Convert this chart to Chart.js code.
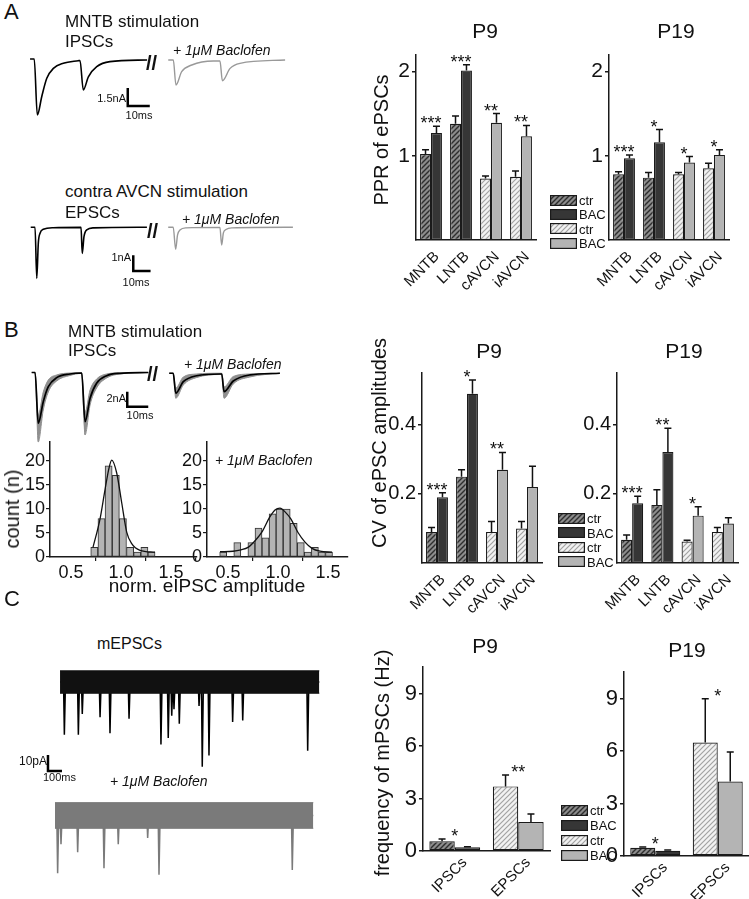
<!DOCTYPE html>
<html>
<head>
<meta charset="utf-8">
<script src="https://cdn.jsdelivr.net/npm/chart.js@4.4.1/dist/chart.umd.min.js"></script>
<style>
  body { margin: 0; background: #fff; width: 749px; height: 899px; position: relative; overflow: hidden;
         font-family: "Liberation Sans", Arial, Helvetica, sans-serif; color: #111; }
  canvas { position: absolute; }
  .t { position: absolute; white-space: nowrap; line-height: 1; }
</style>
</head>
<body>
<script>
// ---- A: paired-pulse ratio of ePSCs ----
const regions = ['MNTB', 'LNTB', 'cAVCN', 'iAVCN'];
const pprTicks = [1, 2];
const pprP9Ctr = [1.02, 1.38, 0.73, 0.75];
const pprP9CtrErr = [0.05, 0.09, 0.03, 0.07];
const pprP9Bac = [1.27, 2.01, 1.39, 1.23];
const pprP9BacErr = [0.08, 0.07, 0.11, 0.13];
const pprP9Stars = ['***', '***', '**', '**'];
const pprP19Ctr = [0.78, 0.74, 0.78, 0.85];
const pprP19CtrErr = [0.03, 0.06, 0.02, 0.06];
const pprP19Bac = [0.97, 1.16, 0.92, 1.01];
const pprP19BacErr = [0.04, 0.15, 0.07, 0.06];
const pprP19Stars = ['***', '*', '*', '*'];

// ---- B: CV of ePSC amplitudes ----
const cvTicks = [0.2, 0.4];
const cvP9Ctr = [0.09, 0.25, 0.09, 0.10];
const cvP9CtrErr = [0.013, 0.02, 0.03, 0.02];
const cvP9Bac = [0.19, 0.49, 0.27, 0.22];
const cvP9BacErr = [0.013, 0.04, 0.05, 0.06];
const cvP9Stars = ['***', '*', '**', ''];
const cvP19Ctr = [0.067, 0.168, 0.062, 0.09];
const cvP19CtrErr = [0.014, 0.044, 0.004, 0.013];
const cvP19Bac = [0.173, 0.321, 0.137, 0.114];
const cvP19BacErr = [0.02, 0.069, 0.026, 0.017];
const cvP19Stars = ['***', '**', '*', ''];

// ---- B: amplitude histograms ----
const countTicks = [0, 5, 10, 15, 20];
const ampTicks = [0.5, 1.0, 1.5];
const ctrBins = [0.733, 0.805, 0.876, 0.948, 1.019, 1.091, 1.162, 1.234, 1.305];
const ctrCounts = [2, 8, 19, 17, 8, 2, 1, 2, 1];
const ctrFitX = [0.72, 0.79, 0.84, 0.88, 0.907, 0.957, 1.007, 1.057, 1.107, 1.19, 1.34];
const ctrFitY = [2, 7.9, 14, 18.5, 20.2, 17.5, 11.3, 5.2, 2.8, 1.4, 1];
const bacBins = [0.452, 0.523, 0.593, 0.664, 0.734, 0.805, 0.875, 0.946, 1.016, 1.087, 1.157, 1.228, 1.298, 1.369, 1.439, 1.510];
const bacCounts = [1, 0, 3, 0, 3, 6, 4, 9, 10, 10, 7, 3, 1, 2, 1, 1];
const bacFitX = [0.42, 0.55, 0.63, 0.70, 0.775, 0.845, 0.914, 0.97, 1.02, 1.075, 1.13, 1.2, 1.27, 1.34, 1.42, 1.54];
const bacFitY = [1.1, 1.2, 1.5, 2.0, 3.5, 5.4, 8.2, 9.8, 10.2, 9.3, 7.9, 5.1, 3.1, 1.8, 1.2, 1.0];

// ---- C: frequency of mPSCs ----
const psc = ['IPSCs', 'EPSCs'];
const freqTicks = [0, 3, 6, 9];
const freqP9Ctr = [0.56, 3.69];
const freqP9CtrErr = [0.13, 0.65];
const freqP9Bac = [0.21, 1.66];
const freqP9BacErr = [0.03, 0.46];
const freqP9Stars = ['*', '**'];
const freqP19Ctr = [0.47, 6.48];
const freqP19CtrErr = [0.05, 2.5];
const freqP19Bac = [0.3, 4.26];
const freqP19BacErr = [0.04, 1.68];
const freqP19Stars = ['*', '*'];

const legendLabels = ['ctr', 'BAC', 'ctr', 'BAC'];

// ---- example traces (time in ms, current in nA) ----
const ipscT = [2.3, 4.2, 5.6, 7.6, 9.9, 12.9, 17.4, 24.2, 25.0, 26.5, 28.8, 32.6, 38.6, 55.5];
const ipscI = [0, 0, -4.67, -3.14, -1.61, -0.78, -0.36, -0.14, -0.12, -2.58, -1.48, -0.64, -0.22, -0.08];
const ipscBacT = [65.1, 67.4, 68.6, 71.2, 75.8, 85.6, 88.6, 89.7, 93.2, 97.7, 118.2];
const ipscBacI = [-0.08, -0.08, -2.17, -1.06, -0.5, -0.17, -0.17, -1.81, -0.78, -0.36, -0.08];
const epscT = [3.3, 5.8, 6.8, 7.7, 8.7, 10.6, 16.4, 32.4, 33.1, 34.1, 35.7, 39.5, 70.5];
const epscI = [0, 0, -3.25, -1.0, -0.38, -0.13, -0.03, -0.01, -1.66, -0.6, -0.17, -0.04, 0];
const epscBacT = [82.8, 85.7, 87.1, 88.2, 89.6, 93.1, 112.7, 113.7, 114.7, 116.2, 119.7, 154.9];
const epscBacI = [0, 0, -1.4, -0.49, -0.17, -0.04, -0.01, -1.13, -0.36, -0.14, -0.04, 0];
// B: mean trace plus the deepest / shallowest of the overlaid sweeps
const sweepT = [3.2, 4.8, 6.3, 8.7, 11.1, 15.1, 21.4, 27.0, 28.6, 31.0, 34.1, 38.9, 45.2, 58.7];
const sweepMean = [0, 0, -6.77, -3.89, -1.89, -0.69, -0.2, -0.07, -6.56, -3.44, -1.44, -0.43, -0.11, 0];
const sweepDeep = [0, 0, -9.27, -5.0, -2.6, -1.13, -0.4, -0.13, -8.33, -4.33, -2.07, -0.73, -0.2, 0];
const sweepFlat = [0, 0, -5.67, -2.6, -1.0, -0.33, -0.07, -0.03, -5.27, -2.33, -0.87, -0.2, -0.05, 0];
const sweepBacT = [68.7, 70.6, 71.8, 75.4, 81.8, 92.9, 93.7, 94.8, 99.2, 107.1, 121.4];
const sweepBacMean = [-0.1, -0.1, -2.77, -1.23, -0.43, -0.2, -0.2, -2.56, -1.13, -0.33, -0.1];
const sweepBacDeep = [-0.1, -0.1, -3.44, -1.67, -0.67, -0.27, -0.27, -3.44, -1.53, -0.6, -0.1];
const sweepBacFlat = [-0.1, -0.1, -2.07, -0.6, -0.2, -0.1, -0.1, -1.93, -0.53, -0.2, -0.1];
// C: mEPSC recordings (ms, pA)
const mepscSpan = [143, 1995];
const mepscNoise = [7, -7];
const mepscEventT = [174, 274, 302, 429, 500, 636, 864, 916, 941, 957, 995, 1136, 1159, 1207, 1376, 1448, 1912];
const mepscEventA = [-33, -33, -20, -22, -32, -23, -39, -35, -21, -17, -26, -15, -53, -46, -25, -24, -43];
const mepscBacSpan = [107, 1952];
const mepscBacNoise = [8, -8];
const mepscBacEventT = [126, 150, 269, 457, 559, 769, 850, 1802];
const mepscBacEventA = [-36, -18, -23, -33, -18, -14, -37, -34];

// ---------------------------------------------------------------
const FONT = '"Liberation Sans", Arial, Helvetica, sans-serif';
Chart.defaults.font.family = FONT;
Chart.defaults.color = '#111';

function mkCanvas(x, y, w, h) {
  const c = document.createElement('canvas');
  c.width = w; c.height = h;
  c.style.left = x + 'px'; c.style.top = y + 'px';
  c.style.width = w + 'px'; c.style.height = h + 'px';
  document.body.appendChild(c);
  return c;
}

function txt(s, x, base, size, o = {}) {
  const d = document.createElement('div');
  d.className = 't';
  d.textContent = s;
  d.style.fontSize = size + 'px';
  d.style.left = x + 'px';
  d.style.top = (base - 0.8465 * size) + 'px';
  if (o.italic) d.style.fontStyle = 'italic';
  if (o.bold) d.style.fontWeight = 'bold';
  if (o.align === 'center') d.style.transform = 'translateX(-50%)';
  if (o.align === 'right') d.style.transform = 'translateX(-100%)';
  document.body.appendChild(d);
}

function vtxt(s, cx, cy, size) {
  const d = document.createElement('div');
  d.className = 't';
  d.textContent = s;
  d.style.fontSize = size + 'px';
  d.style.left = cx + 'px';
  d.style.top = cy + 'px';
  d.style.transform = 'translate(-50%, -50%) rotate(-90deg)';
  document.body.appendChild(d);
}

function hatch(bg, fg, lw) {
  const s = 5;
  const c = document.createElement('canvas');
  c.width = s; c.height = s;
  const g = c.getContext('2d');
  g.fillStyle = bg;
  g.fillRect(0, 0, s, s);
  g.strokeStyle = fg;
  g.lineWidth = lw;
  g.beginPath();
  g.moveTo(-1, s + 1); g.lineTo(s + 1, -1);
  g.moveTo(-1, 1); g.lineTo(1, -1);
  g.moveTo(s - 1, s + 1); g.lineTo(s + 1, s - 1);
  g.stroke();
  return g.createPattern(c, 'repeat');
}

const darkHatch = hatch('#8c8c8c', '#2e2e2e', 1.4);
const lightHatch = hatch('#f2f2f2', '#a2a2a2', 1.2);
const darkSolid = '#363636';
const lightSolid = '#b4b4b4';

// error bars (upward only) and significance stars
const errorBarPlugin = {
  id: 'errorBarPlugin',
  afterDatasetsDraw(chart) {
    const ctx = chart.ctx;
    const y = chart.scales.y;
    const tops = [];
    ctx.save();
    ctx.strokeStyle = '#111';
    ctx.lineWidth = 1.5;
    chart.data.datasets.forEach((ds, i) => {
      if (!ds.errors) return;
      chart.getDatasetMeta(i).data.forEach((bar, j) => {
        const yTop = y.getPixelForValue(ds.data[j] + ds.errors[j]);
        ctx.beginPath();
        ctx.moveTo(bar.x, bar.y);
        ctx.lineTo(bar.x, yTop);
        ctx.moveTo(bar.x - 3.5, yTop);
        ctx.lineTo(bar.x + 3.5, yTop);
        ctx.stroke();
        tops[j] = Math.min(tops[j] === undefined ? Infinity : tops[j], yTop);
      });
    });
    const starDs = chart.data.datasets.find(d => d.stars);
    if (starDs) {
      const m0 = chart.getDatasetMeta(0).data;
      const m1 = chart.getDatasetMeta(1).data;
      ctx.fillStyle = '#111';
      ctx.font = '18px ' + FONT;
      ctx.textAlign = 'center';
      ctx.textBaseline = 'alphabetic';
      starDs.stars.forEach((s, j) => {
        if (s) ctx.fillText(s, (m0[j].x + m1[j].x) / 2, tops[j] + 3);
      });
    }
    ctx.restore();
  }
};

const axisBorder = { color: '#1a1a1a', width: 1.5 };

function groupChart(box, labels, ctr, ctrErr, bac, bacErr, stars, ticks, yMax, style) {
  const cv = mkCanvas(box.x, box.y, box.w, box.h);
  new Chart(cv, {
    type: 'bar',
    data: {
      labels: labels,
      datasets: [
        { label: 'ctr', data: ctr, errors: ctrErr, backgroundColor: style.ctrFill,
          borderColor: '#1a1a1a', borderWidth: 1.2, borderSkipped: false,
          categoryPercentage: style.catPct, barPercentage: 1 },
        { label: 'BAC', data: bac, errors: bacErr, stars: stars, backgroundColor: style.bacFill,
          borderColor: '#1a1a1a', borderWidth: 1.2, borderSkipped: false,
          categoryPercentage: style.catPct, barPercentage: 1 }
      ]
    },
    options: {
      animation: false,
      responsive: false,
      devicePixelRatio: 1,
      layout: { padding: { top: box.pt, right: box.pr, left: 0, bottom: 0 } },
      plugins: { legend: { display: false }, tooltip: { enabled: false } },
      scales: {
        x: {
          grid: { display: false },
          border: axisBorder,
          ticks: { font: { size: style.labelSize }, color: '#111', minRotation: 45, maxRotation: 45,
                   padding: style.labelPad, labelOffset: style.labelShift },
          afterFit: s => { s.height = box.xh; }
        },
        y: {
          min: 0,
          max: yMax,
          border: axisBorder,
          grid: { drawOnChartArea: false, color: '#1a1a1a', lineWidth: 1.5, tickLength: 4 },
          ticks: { font: { size: style.tickSize }, color: '#111', padding: 2, callback: v => style.fmt(v) },
          afterBuildTicks: s => { s.ticks = ticks.map(v => ({ value: v })); },
          afterFit: s => { s.width = box.yw; }
        }
      }
    },
    plugins: [errorBarPlugin]
  });
}

function histChart(box, centers, counts, fitX, fitY, xMin, xMax) {
  const cv = mkCanvas(box.x, box.y, box.w, box.h);
  new Chart(cv, {
    type: 'bar',
    data: {
      datasets: [
        { type: 'line', data: fitX.map((x, k) => ({ x: x, y: fitY[k] })), borderColor: '#111',
          borderWidth: 1.3, pointRadius: 0, cubicInterpolationMode: 'monotone', order: 0 },
        { type: 'bar', data: centers.map((x, k) => ({ x: x, y: counts[k] })), backgroundColor: '#b4b4b4',
          borderColor: '#333', borderWidth: 1, borderSkipped: false,
          barPercentage: 1, categoryPercentage: 1, order: 1 }
      ]
    },
    options: {
      animation: false,
      responsive: false,
      devicePixelRatio: 1,
      layout: { padding: { top: box.pt, right: box.pr, left: 0, bottom: 0 } },
      plugins: { legend: { display: false }, tooltip: { enabled: false } },
      scales: {
        x: {
          type: 'linear', min: xMin, max: xMax, offset: false,
          border: axisBorder,
          grid: { drawOnChartArea: false, color: '#1a1a1a', lineWidth: 1.2, tickLength: 4 },
          ticks: { font: { size: 18 }, color: '#111', padding: 1, maxRotation: 0, callback: v => v.toFixed(1) },
          afterBuildTicks: s => { s.ticks = ampTicks.map(v => ({ value: v })); },
          afterFit: s => { s.height = box.xh; }
        },
        y: {
          min: 0, max: 24,
          border: axisBorder,
          grid: { drawOnChartArea: false, color: '#1a1a1a', lineWidth: 1.2, tickLength: 4 },
          ticks: { font: { size: 18 }, color: '#111', padding: 1 },
          afterBuildTicks: s => { s.ticks = countTicks.map(v => ({ value: v })); },
          afterFit: s => { s.width = box.yw; }
        }
      }
    }
  });
}

function pts(xs, ys) { return xs.map((x, k) => ({ x: x, y: ys[k] })); }

// lower "order" is painted on top
function line(data, color, width, extra = {}) {
  return Object.assign({ data: data, borderColor: color, borderWidth: width, pointRadius: 0,
    fill: false, cubicInterpolationMode: 'monotone', order: 1 }, extra);
}

function scaleBar(t, i, dt, di) {
  return line([{ x: t, y: i + di }, { x: t, y: i }, { x: t + dt, y: i }], '#000', 2.5,
    { cubicInterpolationMode: 'default', tension: 0, order: 0 });
}

function spikes(span, times, amps) {
  const p = [{ x: span[0], y: 0 }];
  times.forEach((t, k) => { p.push({ x: t - 6, y: 0 }, { x: t, y: amps[k] }, { x: t + 8, y: 0 }); });
  p.push({ x: span[1], y: 0 });
  return p;
}

function traceChart(box, xMax, yMin, yMax, datasets) {
  const cv = mkCanvas(box.x, box.y, box.w, box.h);
  new Chart(cv, {
    type: 'line',
    data: { datasets: datasets },
    options: {
      animation: false,
      responsive: false,
      devicePixelRatio: 1,
      layout: { padding: 0 },
      plugins: { legend: { display: false }, tooltip: { enabled: false } },
      scales: {
        x: { type: 'linear', display: false, min: 0, max: xMax },
        y: { display: false, min: yMin, max: yMax }
      }
    }
  });
}

function legend(x, rows) {
  const fills = [darkHatch, darkSolid, lightHatch, lightSolid];
  legendLabels.forEach((lab, k) => {
    const c = mkCanvas(x, Math.round(rows[k] - 5.5), 27, 11);
    const g = c.getContext('2d');
    g.fillStyle = fills[k];
    g.fillRect(0, 0, 27, 11);
    g.strokeStyle = '#1a1a1a';
    g.lineWidth = 1.2;
    g.strokeRect(0.6, 0.6, 25.8, 9.8);
    txt(lab, x + 29, rows[k] + 5, 13);
  });
}

const fmtInt = v => String(v);
const fmt1 = v => v.toFixed(1);
const styleA = { ctrFill: [darkHatch, darkHatch, lightHatch, lightHatch], bacFill: [darkSolid, darkSolid, lightSolid, lightSolid],
  catPct: 0.73, labelSize: 15, labelShift: 6, labelPad: 0, tickSize: 21, fmt: fmtInt };
const styleB = Object.assign({}, styleA, { tickSize: 20, fmt: fmt1 });
const styleC = { ctrFill: [darkHatch, lightHatch], bacFill: [darkSolid, lightSolid],
  catPct: 0.8, labelSize: 15, labelShift: 10, labelPad: -5, tickSize: 22, fmt: fmtInt };

// ---- panel A ----
groupChart({ x: 370, y: 40, w: 176, h: 260, pt: 10, pr: 10, yw: 46, xh: 60 },
  regions, pprP9Ctr, pprP9CtrErr, pprP9Bac, pprP9BacErr, pprP9Stars, pprTicks, 2.2, styleA);
groupChart({ x: 565, y: 40, w: 175, h: 260, pt: 10, pr: 11, yw: 44, xh: 60 },
  regions, pprP19Ctr, pprP19CtrErr, pprP19Bac, pprP19BacErr, pprP19Stars, pprTicks, 2.2, styleA);
legend(550, [200, 214.3, 228.7, 243]);

traceChart({ x: 25, y: 48, w: 270, h: 80 }, 122.7, -5.75, 0.917, [
  line(pts(ipscT, ipscI), '#000', 1.6),
  line(pts(ipscBacT, ipscBacI), '#999', 1.4),
  scaleBar(46.7, -3.92, 10, 1.5)
]);
traceChart({ x: 25, y: 215, w: 275, h: 80 }, 159, -4.31, 0.78, [
  line(pts(epscT, epscI), '#000', 1.6),
  line(pts(epscBacT, epscBacI), '#999', 1.4),
  scaleBar(62.6, -2.78, 10, 1)
]);

// ---- panel B ----
groupChart({ x: 376, y: 359, w: 176, h: 264, pt: 10, pr: 10, yw: 46, xh: 60 },
  regions, cvP9Ctr, cvP9CtrErr, cvP9Bac, cvP9BacErr, cvP9Stars, cvTicks, 0.55, styleB);
groupChart({ x: 571, y: 359, w: 178, h: 264, pt: 10, pr: 11, yw: 46, xh: 60 },
  regions, cvP19Ctr, cvP19CtrErr, cvP19Bac, cvP19BacErr, cvP19Stars, cvTicks, 0.55, styleB);
legend(558, [518.3, 532.7, 547.3, 561.7]);

traceChart({ x: 25, y: 355, w: 270, h: 95 }, 128.6, -10.33, 2.33, [
  line(pts(sweepT, sweepFlat), '#8f8f8f', 1, { fill: '+1', backgroundColor: '#8f8f8f', order: 2 }),
  line(pts(sweepT, sweepDeep), '#8f8f8f', 1, { order: 2 }),
  line(pts(sweepT, sweepMean), '#000', 1.7, { order: 0 }),
  line(pts(sweepBacT, sweepBacFlat), '#8f8f8f', 1, { fill: '+1', backgroundColor: '#8f8f8f', order: 2 }),
  line(pts(sweepBacT, sweepBacDeep), '#8f8f8f', 1, { order: 2 }),
  line(pts(sweepBacT, sweepBacMean), '#000', 1.7, { order: 0 }),
  scaleBar(48.7, -4.56, 10, 2)
]);

histChart({ x: 15, y: 430, w: 190, h: 150, pt: 10, pr: 8, yw: 35, xh: 23 },
  ctrBins, ctrCounts, ctrFitX, ctrFitY, 0.29, 1.76);
histChart({ x: 172, y: 430, w: 185, h: 150, pt: 10, pr: 9, yw: 35, xh: 23 },
  bacBins, bacCounts, bacFitX, bacFitY, 0.29, 1.70);

// ---- panel C ----
groupChart({ x: 377, y: 652, w: 183, h: 247, pt: 10, pr: 10, yw: 46, xh: 48 },
  psc, freqP9Ctr, freqP9CtrErr, freqP9Bac, freqP9BacErr, freqP9Stars, freqTicks, 10.5, styleC);
groupChart({ x: 578, y: 657, w: 171, h: 242, pt: 10, pr: 0, yw: 46, xh: 43 },
  psc, freqP19Ctr, freqP19CtrErr, freqP19Bac, freqP19BacErr, freqP19Stars, freqTicks, 10.5, styleC);
legend(561, [810, 825, 840, 855]);

traceChart({ x: 40, y: 655, w: 285, h: 125 }, 2035.7, -61.25, 16.9, [
  line([{ x: mepscSpan[0], y: mepscNoise[0] }, { x: mepscSpan[1], y: mepscNoise[0] }], '#111', 1,
    { fill: '+1', backgroundColor: '#111', tension: 0 }),
  line([{ x: mepscSpan[0], y: mepscNoise[1] }, { x: mepscSpan[1], y: mepscNoise[1] }], '#111', 1, { tension: 0 }),
  line(spikes(mepscSpan, mepscEventT, mepscEventA), '#000', 1.5, { cubicInterpolationMode: 'default', tension: 0 }),
  scaleBar(57, -55.6, 100, 10)
]);
traceChart({ x: 40, y: 790, w: 285, h: 95 }, 2035.7, -43.4, 15.9, [
  line([{ x: mepscBacSpan[0], y: mepscBacNoise[0] }, { x: mepscBacSpan[1], y: mepscBacNoise[0] }], '#7a7a7a', 1,
    { fill: '+1', backgroundColor: '#7a7a7a', tension: 0 }),
  line([{ x: mepscBacSpan[0], y: mepscBacNoise[1] }, { x: mepscBacSpan[1], y: mepscBacNoise[1] }], '#7a7a7a', 1, { tension: 0 }),
  line(spikes(mepscBacSpan, mepscBacEventT, mepscBacEventA), '#7a7a7a', 1.5, { cubicInterpolationMode: 'default', tension: 0 })
]);

// ---- text ----
txt('A', 4, 20, 22);
txt('MNTB stimulation', 65, 27, 17);
txt('IPSCs', 65, 47, 17);
txt('+ 1μM Baclofen', 173, 55, 14, { italic: true });
txt('//', 146, 70, 20, { bold: true });
txt('1.5nA', 126, 102, 11, { align: 'right' });
txt('10ms', 139, 119, 11, { align: 'center' });
txt('contra AVCN stimulation', 65, 197, 17);
txt('EPSCs', 65, 218, 17);
txt('+ 1μM Baclofen', 182, 224, 14, { italic: true });
txt('//', 147, 238, 20, { bold: true });
txt('1nA', 131, 261, 11, { align: 'right' });
txt('10ms', 136, 286, 11, { align: 'center' });
txt('P9', 485, 38, 21, { align: 'center' });
txt('P19', 676, 38, 21, { align: 'center' });
vtxt('PPR of ePSCs', 381, 140, 20);

txt('B', 4, 338, 22);
txt('MNTB stimulation', 68, 337, 17);
txt('IPSCs', 68, 356, 17);
txt('+ 1μM Baclofen', 184, 369, 14, { italic: true });
txt('//', 147, 381, 20, { bold: true });
txt('2nA', 126, 402, 11, { align: 'right' });
txt('10ms', 140, 419, 11, { align: 'center' });
txt('+ 1μM Baclofen', 215, 465, 14, { italic: true });
vtxt('count (n)', 12, 509, 20);
txt('norm. eIPSC amplitude', 207, 592, 19, { align: 'center' });
txt('P9', 489, 358, 21, { align: 'center' });
txt('P19', 684, 358, 21, { align: 'center' });
vtxt('CV of ePSC amplitudes', 379, 443, 20);

txt('C', 4, 607, 22);
txt('mEPSCs', 97, 650, 16);
txt('10pA', 47, 765, 12, { align: 'right' });
txt('100ms', 43, 781, 11);
txt('+ 1μM Baclofen', 110, 786, 14, { italic: true });
txt('P9', 485, 653, 21, { align: 'center' });
txt('P19', 687, 657, 21, { align: 'center' });
vtxt('frequency of mPSCs (Hz)', 382, 763, 20);
</script>
</body>
</html>
